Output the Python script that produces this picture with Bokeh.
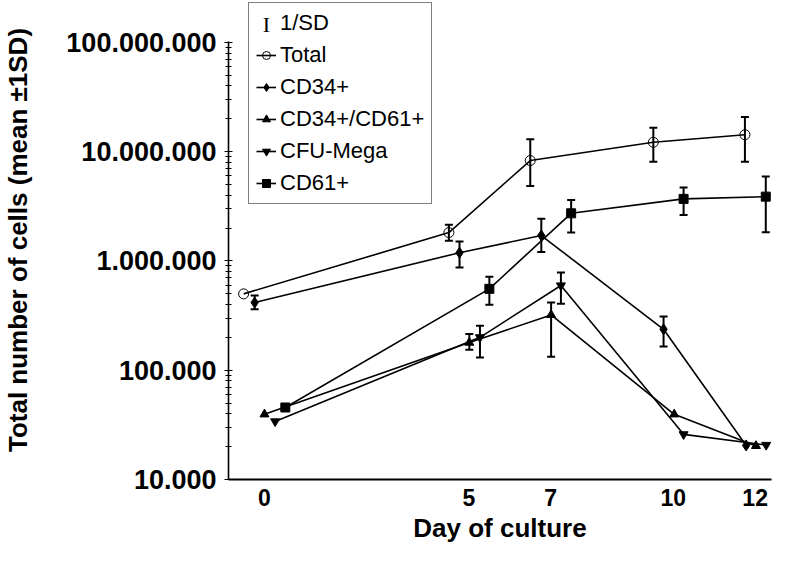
from bokeh.plotting import figure
from bokeh.models import (ColumnDataSource, Whisker, TeeHead, FixedTicker,
                          Legend, LegendItem, Label)
from bokeh.embed import file_html
from bokeh.resources import INLINE

# ---------------- data ----------------
day_ticks = [0, 5, 7, 10, 12]
y_tick_values = [10000, 100000, 1000000, 10000000, 100000000]
y_tick_labels = ["10.000", "100.000", "1.000.000", "10.000.000", "100.000.000"]

total_day = [-0.51, 4.51, 6.50, 9.51, 11.75]
total_mean = [500000, 1820000, 8300000, 12200000, 14300000]
total_lo = [None, 1530000, 4860000, 8100000, 8100000]
total_hi = [None, 2140000, 13000000, 16600000, 20800000]

cd34_day = [-0.24, 4.77, 6.77, 9.76, 11.78]
cd34_mean = [416000, 1190000, 1710000, 237000, 20500]
cd34_lo = [361000, 871000, 1210000, 165000, None]
cd34_hi = [482000, 1510000, 2440000, 310000, None]

cd3461_day = [0.0, 5.01, 7.01, 10.02, 12.02]
cd3461_mean = [39500, 179000, 321000, 39500, 20300]
cd3461_lo = [None, 154000, 133000, None, None]
cd3461_hi = [None, 215000, 416000, None, None]

cfu_day = [0.26, 5.27, 7.25, 10.25, 12.27]
cfu_mean = [34000, 200000, 596000, 25900, 20700]
cfu_lo = [None, 131000, 405000, None, None]
cfu_hi = [None, 255000, 783000, None, None]

cd61_day = [0.51, 5.50, 7.50, 10.25, 12.26]
cd61_mean = [45600, 556000, 2730000, 3700000, 3880000]
cd61_lo = [None, 397000, 1820000, 2640000, 1830000]
cd61_hi = [None, 716000, 3620000, 4700000, 5920000]

series = [
    ("Total", total_day, total_mean, total_lo, total_hi, "circle", False),
    ("CD34+", cd34_day, cd34_mean, cd34_lo, cd34_hi, "diamond", True),
    ("CD34+/CD61+", cd3461_day, cd3461_mean, cd3461_lo, cd3461_hi, "triangle", True),
    ("CFU-Mega", cfu_day, cfu_mean, cfu_lo, cfu_hi, "inverted_triangle", True),
    ("CD61+", cd61_day, cd61_mean, cd61_lo, cd61_hi, "square", True),
]
marker_sizes = {"circle": 10, "diamond": 11, "triangle": 9,
                "inverted_triangle": 9, "square": 9}

FONT = "Liberation Sans"

p = figure(frame_width=543, frame_height=479,
           x_range=(-0.88, 12.40), y_range=(10000, 242000000),
           y_axis_type="log", output_backend="svg", toolbar_location=None,
           min_border_left=226, min_border_right=3, min_border_top=0,
           min_border_bottom=69)
p.background_fill_color = "white"
p.border_fill_color = "white"
p.outline_line_color = None
p.grid.visible = False

items = []
# dummy renderer for the "1/SD" legend entry
dummy = p.scatter([], [], marker="circle", size=1, alpha=0)
items.append(LegendItem(label="1/SD", renderers=[dummy]))

for name, xs, ys, lo, hi, mk, filled in series:
    src = ColumnDataSource(dict(x=xs, y=ys))
    lr = p.line("x", "y", source=src, line_color="black", line_width=1.6)
    wx = [x for x, l in zip(xs, lo) if l is not None]
    wl = [l for l in lo if l is not None]
    wh = [h for h in hi if h is not None]
    if wx:
        wsrc = ColumnDataSource(dict(x=wx, lower=wl, upper=wh))
        w = Whisker(base="x", lower="lower", upper="upper", source=wsrc,
                    dimension="height", line_color="black", line_width=2,
                    upper_head=TeeHead(size=8, line_width=2, line_color="black"),
                    lower_head=TeeHead(size=8, line_width=2, line_color="black"))
        p.add_layout(w)
    sr = p.scatter("x", "y", source=src, marker=mk, size=marker_sizes[mk],
                   line_color="black", line_width=1,
                   fill_color="black" if filled else None)
    items.append(LegendItem(label=name, renderers=[lr, sr]))

# I-beam icon for the SD entry
ibeam = Label(x=38, y=455, x_units="screen", y_units="screen", text="I",
              text_font="Liberation Serif", text_font_size="22px",
              text_align="center", text_baseline="middle",
              text_color="black")
p.add_layout(ibeam)

legend = Legend(items=items, location=(20, 275), orientation="vertical",
                glyph_width=20, glyph_height=26, label_height=26, spacing=6,
                padding=7, margin=0, label_standoff=4,
                label_text_font=FONT, label_text_font_size="22px",
                label_text_color="black",
                border_line_color="black", border_line_width=1,
                background_fill_color="white", background_fill_alpha=0)
p.add_layout(legend)

# x axis
xa = p.xaxis[0]
xa.ticker = FixedTicker(ticks=day_ticks)
xa.axis_label = "Day of culture"
xa.axis_line_width = 2
xa.major_tick_in = 0
xa.major_tick_out = 0
xa.minor_tick_in = 0
xa.minor_tick_out = 0
xa.major_label_standoff = 9
xa.axis_label_standoff = 4
xa.major_label_text_font = FONT
xa.major_label_text_font_style = "bold"
xa.major_label_text_font_size = "23px"
xa.major_label_text_color = "black"
xa.axis_label_text_font = FONT
xa.axis_label_text_font_style = "bold"
xa.axis_label_text_font_size = "26px"
xa.axis_label_text_color = "black"

# y axis
minor = [m * 10 ** e for e in range(4, 8) for m in range(2, 10)]
ya = p.yaxis[0]
ya.ticker = FixedTicker(ticks=y_tick_values, minor_ticks=minor)
ya.bounds = (10000, 102000000)
ya.major_label_overrides = dict(zip(y_tick_values, y_tick_labels))
ya.axis_label = "Total number of cells (mean \u00b11SD)"
ya.axis_line_width = 1.6
ya.major_tick_in = 4
ya.major_tick_out = 4
ya.minor_tick_in = 3
ya.minor_tick_out = 3
ya.major_tick_line_width = 1
ya.minor_tick_line_width = 1
ya.major_label_standoff = 8
ya.axis_label_standoff = 30
ya.major_label_text_font = FONT
ya.major_label_text_font_style = "bold"
ya.major_label_text_font_size = "27px"
ya.major_label_text_color = "black"
ya.axis_label_text_font = FONT
ya.axis_label_text_font_style = "bold"
ya.axis_label_text_font_size = "26px"
ya.axis_label_text_color = "black"

open("out.html", "w").write(file_html(p, INLINE))
